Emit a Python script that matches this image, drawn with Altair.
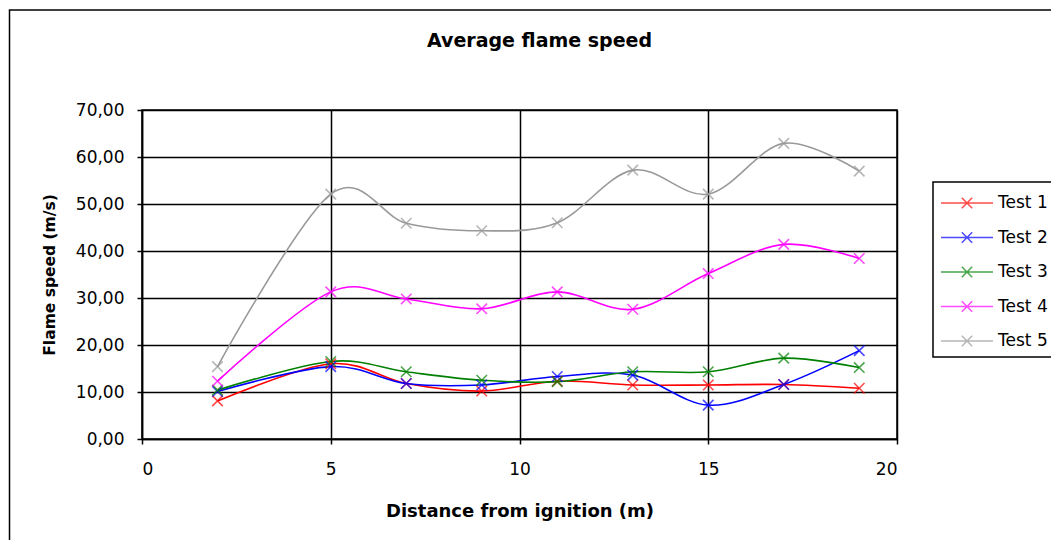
import altair as alt
import pandas as pd

distance = [2, 5, 7, 9, 11, 13, 15, 17, 19]
test1 = [8.1, 16.0, 11.8, 10.2, 12.3, 11.5, 11.5, 11.6, 10.8]
test2 = [10.1, 15.4, 11.8, 11.5, 13.3, 13.6, 7.2, 11.6, 18.8]
test3 = [10.4, 16.5, 14.3, 12.5, 12.2, 14.3, 14.3, 17.2, 15.2]
test4 = [12.3, 31.3, 29.8, 27.7, 31.3, 27.6, 35.2, 41.4, 38.4]
test5 = [15.4, 52.1, 45.9, 44.3, 46.0, 57.2, 52.1, 62.9, 57.0]
series_names = ["Test 1", "Test 2", "Test 3", "Test 4", "Test 5"]
series_colors = ["#FF0000", "#0000FF", "#008000", "#FF00FF", "#999999"]

rows = []
for name, vals in zip(series_names, [test1, test2, test3, test4, test5]):
    for d, v in zip(distance, vals):
        rows.append({"Distance": d, "Speed": v, "Series": name})
df = pd.DataFrame(rows)

FONT = "DejaVu Sans"

legend = alt.Legend(
    orient="none", legendX=791, legendY=72, title=None,
    symbolType="M-1,0L3,0M0.6,-0.4L1.4,0.4M0.6,0.4L1.4,-0.4",
    symbolSize=676, symbolStrokeWidth=1.5, symbolFillColor="transparent",
    labelFontSize=17, labelFont=FONT, labelColor="black",
    strokeColor="black", fillColor="white",
    padding=7, rowPadding=11.5, labelOffset=30,
)

color = alt.Color("Series:N", scale=alt.Scale(domain=series_names, range=series_colors), legend=legend)

x = alt.X("Distance:Q", scale=alt.Scale(domain=[0, 20], nice=False),
          axis=alt.Axis(values=[0, 5, 10, 15, 20], title="Distance from ignition (m)",
                        labelPadding=17, titlePadding=25, titleFontSize=18))
y = alt.Y("Speed:Q", scale=alt.Scale(domain=[0, 70], nice=False),
          axis=alt.Axis(values=[0, 10, 20, 30, 40, 50, 60, 70], title="Flame speed (m/s)",
                        labelExpr="replace(format(datum.value, '.2f'), '.', ',')",
                        labelPadding=13, titlePadding=18, titleFontSize=15.5))

frame = alt.Chart(pd.DataFrame({"k": [0]})).mark_rect(
    fill="transparent", stroke="black", strokeWidth=1.5
).encode(x=alt.value(-132.5), x2=alt.value(1000), y=alt.value(-100), y2=alt.value(600))

lines = alt.Chart(df).mark_line(interpolate="cardinal", strokeWidth=1.6).encode(x=x, y=y, color=color)
points = alt.Chart(df).mark_point(shape="M-1,-1L1,1M-1,1L1,-1", filled=False, size=110, strokeWidth=1.6).encode(
    x=x, y=y, color=color)

chart = alt.layer(frame, lines, points).properties(
    width=755, height=329,
    title=alt.TitleParams("Average flame speed", fontSize=19, fontWeight="bold", font=FONT,
                          anchor="middle", dx=20, offset=-42, color="black"),
    autosize=alt.AutoSizeParams(type="none"),
    padding={"left": 134, "top": 102, "right": 154, "bottom": 101},
    background="white",
).configure_axis(
    grid=True, gridColor="black", gridWidth=1.5, domainColor="black", domainWidth=1.5,
    tickColor="black", tickWidth=1.5, tickSize=5,
    labelFont=FONT, labelFontSize=17, labelColor="black",
    titleFont=FONT, titleFontWeight="bold", titleColor="black",
).configure_legend(strokeWidth=1.5).configure_view(stroke="black", strokeWidth=1.5)

chart.save("out.html", embed_options={"renderer": "svg", "actions": False})
